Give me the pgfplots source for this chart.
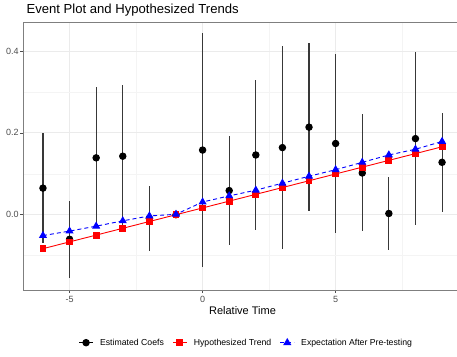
\documentclass[border=0pt]{standalone}
\usepackage{pgfplots}
\pgfplotsset{compat=1.18}
\usepackage{pgfplotstable}
\usepackage{fontspec}
\setmainfont{Liberation Sans}

\definecolor{gridmaj}{HTML}{EBEBEB}
\definecolor{gridmin}{HTML}{F4F4F4}
\definecolor{ticktext}{HTML}{4D4D4D}
\definecolor{frame}{HTML}{7F7F7F}
\definecolor{trendred}{HTML}{FF0000}
\definecolor{expblue}{HTML}{0000FF}

% event-study coefficients with confidence bounds
\pgfplotstableread{
x   y      lo      hi
-6  0.065  -0.070  0.200
-5  -0.060 -0.155  0.034
-4  0.139  -0.033  0.311
-3  0.143  -0.030  0.316
-2  -0.009 -0.088  0.070
-1  0.000  0.000   0.000
0   0.158  -0.127  0.443
1   0.059  -0.075  0.192
2   0.146  -0.037  0.329
3   0.164  -0.084  0.413
4   0.214  0.009   0.420
5   0.174  -0.045  0.393
6   0.102  -0.041  0.246
7   0.003  -0.086  0.091
8   0.186  -0.025  0.398
9   0.128  0.007   0.248
}\coefs

% hypothesized linear trend
\pgfplotstableread{
x   y
-6  -0.0830
-5  -0.0664
-4  -0.0498
-3  -0.0332
-2  -0.0166
-1  0.0000
0   0.0166
1   0.0332
2   0.0498
3   0.0664
4   0.0830
5   0.0996
6   0.1162
7   0.1328
8   0.1494
9   0.1660
}\trend

% expectation conditional on passing the pre-test
\pgfplotstableread{
x   y
-6  -0.051
-5  -0.040
-4  -0.028
-3  -0.015
-2  -0.003
-1  0.001
0   0.031
1   0.046
2   0.060
3   0.077
4   0.094
5   0.110
6   0.128
7   0.146
8   0.160
9   0.179
}\expect

\begin{document}
\begin{tikzpicture}
\begin{axis}[
  at={(0,0)}, anchor=south west,
  scale only axis,
  width=439pt, height=268pt,
  xmin=-6.75, xmax=9.75,
  ymin=-0.184, ymax=0.471,
  xtick={-5,0,5,10}, xticklabels={-5,0,5,10},
  minor xtick={-2.5,2.5,7.5},
  ytick={0,0.2,0.4}, yticklabels={0.0,0.2,0.4},
  minor ytick={-0.1,0.1,0.3},
  grid=both,
  major grid style={gridmaj, line width=0.9pt},
  minor grid style={gridmin, line width=0.5pt},
  axis line style={frame, line width=0.8pt},
  tick align=outside,
  xtick pos=lower, ytick pos=left,
  major tick length=2.7pt,
  minor tick length=0pt,
  tick style={ticktext, line width=0.6pt},
  ticklabel style={font=\fontsize{9}{10}\selectfont, text=ticktext},
  xticklabel style={inner sep=1pt, yshift=-2pt},
  yticklabel style={inner sep=1.5pt},
  /pgf/number format/assume math mode=true,
  xlabel={Relative Time},
  x label style={at={(axis description cs:0.5,0)}, anchor=base, yshift=-24.7pt,
    font=\fontsize{11}{12}\selectfont},
  title={Event Plot and Hypothesized Trends},
  title style={at={(axis description cs:0,1)}, anchor=base west, yshift=2pt,
    font=\fontsize{13.1}{14}\selectfont},
  legend columns=3,
  legend style={at={(axis description cs:0.508,-0.1966)}, anchor=center,
    draw=none, fill=none, inner sep=0pt,
    font=\fontsize{8.7}{10}\selectfont,
    nodes={inner sep=1.5pt},
    /tikz/every odd column/.append style={column sep=5pt},
    /tikz/every even column/.append style={column sep=7pt}},
  legend image code/.code={%
    \draw[mark repeat=2, mark phase=2, #1]
      plot coordinates {(0pt,0pt) (7pt,0pt) (14pt,0pt)};},
]

\addplot[black, line width=1pt, mark=*, mark size=3.2pt,
  mark options={solid, fill=black, draw=black},
  only marks,
  legend image code/.code={%
    \draw[black, line width=1pt, sharp plot, mark=*, mark size=3.2pt,
      mark options={solid, fill=black},
      mark repeat=2, mark phase=2]
      plot coordinates {(0pt,0pt) (7pt,0pt) (14pt,0pt)};},
  error bars/.cd, y dir=both, y explicit, error mark=none,
  error bar style={black!78, line width=1.1pt}]
  table[x=x, y=y,
    y error plus expr=\thisrow{hi}-\thisrow{y},
    y error minus expr=\thisrow{y}-\thisrow{lo}] {\coefs};
\addlegendentry{Estimated Coefs}

\addplot[trendred, line width=0.9pt, mark=square*, mark size=2.9pt,
  mark options={solid, fill=trendred, draw=trendred}]
  table[x=x, y=y] {\trend};
\addlegendentry{Hypothesized Trend}

\addplot[expblue, line width=0.9pt, dash pattern=on 4pt off 3pt,
  mark=triangle*, mark size=3.8pt,
  mark options={solid, fill=expblue, draw=expblue}]
  table[x=x, y=y] {\expect};
\addlegendentry{Expectation After Pre-testing}

\end{axis}
\pgfresetboundingbox
\path[use as bounding box] (-23pt,-66pt) rectangle (434pt,290pt);
\end{tikzpicture}
\end{document}
